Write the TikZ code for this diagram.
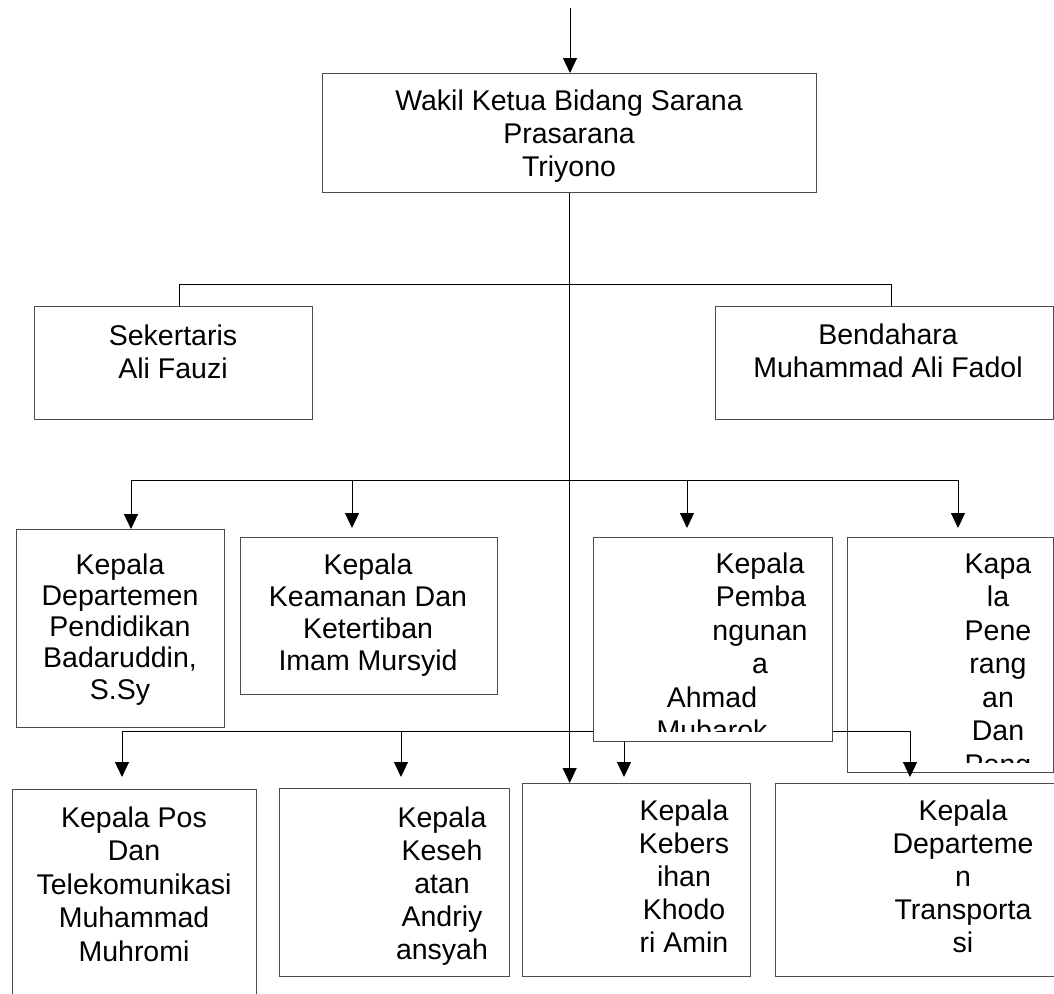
\documentclass[tikz,border=0pt]{standalone}
\usepackage{fontspec}
\setmainfont{Liberation Sans}
\usetikzlibrary{arrows.meta}
\begin{document}
\begin{tikzpicture}[x=1pt,y=-1pt,
  box/.style={draw=black!70,line width=1.3pt,fill=white,rectangle,inner sep=0pt,anchor=north west},
  txt/.style={anchor=base,inner sep=0pt,font=\fontsize{28.5}{33}\selectfont},
  conn/.style={draw=black,line width=1pt},
  arr/.style={conn,-{Triangle[length=15pt,width=14pt]}}]
\useasboundingbox (0,0) rectangle (1054,993);

% boxes
\node[box,minimum width=494pt,minimum height=119pt] (top) at (322,73) {};
\node[box,minimum width=278pt,minimum height=113pt] (sek) at (34,306) {};
\node[box,minimum width=338pt,minimum height=113pt] (ben) at (715,306) {};
\node[box,minimum width=208pt,minimum height=198pt] (pend) at (16,529) {};
\node[box,minimum width=257pt,minimum height=157pt] (keam) at (240,537) {};
\node[box,minimum width=206pt,minimum height=235pt] (pener) at (847,537) {};
\node[box,minimum width=244pt,minimum height=230pt] (pos) at (12,789) {};
\node[box,minimum width=230pt,minimum height=188pt] (kes) at (279,788) {};
\node[box,minimum width=228pt,minimum height=193pt] (keb) at (522,783) {};
\node[box,minimum width=290pt,minimum height=193pt] (trans) at (775,783) {};

% texts
\foreach \t [count=\i from 0] in {Wakil Ketua Bidang Sarana,Prasarana,Triyono}
  \node[txt] (top-\i) at (569,{110+33*\i}) {\t};
\foreach \t [count=\i from 0] in {Sekertaris,Ali Fauzi}
  \node[txt] (sek-\i) at (173,{345+33*\i}) {\t};
\foreach \t [count=\i from 0] in {Bendahara,Muhammad Ali Fadol}
  \node[txt] (ben-\i) at (888,{344+33*\i}) {\t};
\foreach \t [count=\i from 0] in {Kepala,Departemen,Pendidikan,{Badaruddin,},S.Sy}
  \node[txt] (pend-\i) at (120,{574+31.3*\i}) {\t};
\foreach \t [count=\i from 0] in {Kepala,Keamanan Dan,Ketertiban,Imam Mursyid}
  \node[txt] (keam-\i) at (368,{574+32*\i}) {\t};
\begin{scope}
  \clip (847,537) rectangle (1053,762);
  \foreach \t [count=\i from 0] in {Kapa,la,Pene,rang,an,Dan,Peng}
    \node[txt] (pener-\i) at (998,{573+33.5*\i}) {\t};
\end{scope}
\foreach \t [count=\i from 0] in {Kepala Pos,Dan,Telekomunikasi,Muhammad,Muhromi}
  \node[txt] (pos-\i) at (134,{827+33.5*\i}) {\t};
\foreach \t [count=\i from 0] in {Kepala,Keseh,atan,Andriy,ansyah}
  \node[txt] (kes-\i) at (442,{827+33.2*\i}) {\t};
\foreach \t [count=\i from 0] in {Kepala,Kebers,ihan,Khodo,ri Amin}
  \node[txt] (keb-\i) at (684,{820+33.2*\i}) {\t};
\foreach \t [count=\i from 0] in {Kepala,Departeme,n,Transporta,si}
  \node[txt] (trans-\i) at (963,{820+33.2*\i}) {\t};

% connectors
\coordinate (in) at (570,8);
\draw[arr] (in) -- (in |- top.north);
\draw[arr] (top.south) -- (top.south |- keb.north);

\coordinate (s1) at (179,284);
\coordinate (s2) at (891,284);
\draw[conn] (s1 |- sek.north) -- (s1) -- (s2) -- (s2 |- ben.north);

\coordinate (r1) at (131,480);
\coordinate (r2) at (352,480);
\coordinate (r3) at (687,480);
\coordinate (r4) at (958,480);
\draw[conn] (r1) -- (r4);
\draw[arr] (r1) -- (r1 |- pend.north);
\foreach \c in {r2,r3,r4}
  \draw[arr] (\c) -- ++(0,48);

\coordinate (q1) at (122,731);
\coordinate (q2) at (401,731);
\coordinate (q3) at (624,731);
\coordinate (q4) at (910,731);
\draw[conn] (q1) -- (q4);
\foreach \c in {q1,q2,q3,q4}
  \draw[arr] (\c) -- ++(0,46);

% Pembangunan box on top of the lower branch line
\node[box,minimum width=239pt,minimum height=204pt] (pemb) at (593,537) {};
\begin{scope}
  \clip (593,537) rectangle (832,731);
  \foreach \t/\x [count=\i from 0] in {Kepala/760,Pemba/761,ngunan/760,a/760,Ahmad/712,Mubarok/712}
    \node[txt] (pemb-\i) at (\x,{573+33.5*\i}) {\t};
\end{scope}
\end{tikzpicture}
\end{document}
